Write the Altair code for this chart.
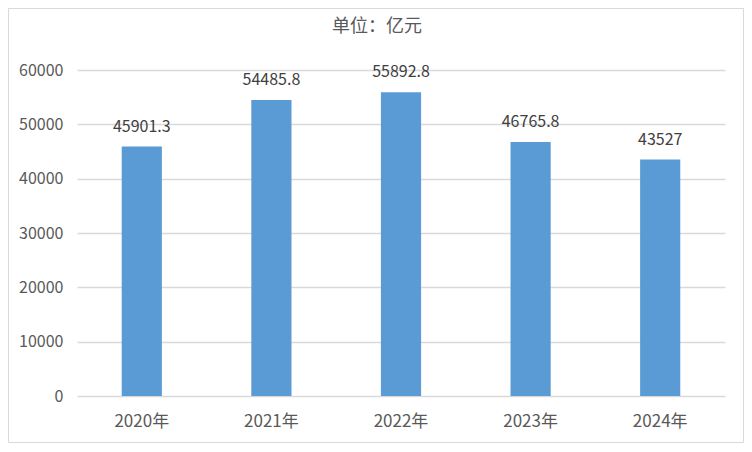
import altair as alt
import pandas as pd

years = ["2020年", "2021年", "2022年", "2023年", "2024年"]
values = [45901.3, 54485.8, 55892.8, 46765.8, 43527]
labels = ["45901.3", "54485.8", "55892.8", "46765.8", "43527"]
title_text = ["单位：亿元"]

df = pd.DataFrame({"year": years, "value": values, "label": labels})

FONT = "Noto Sans CJK SC"
GRAY = "#595959"

base = alt.Chart(df)

x = alt.X("year:N", sort=years, title=None,
          scale=alt.Scale(paddingInner=0.69, paddingOuter=0.345),
          axis=alt.Axis(labelAngle=0, labelFont=FONT, labelFontSize=17, labelColor=GRAY,
                        labelPadding=17, ticks=False, domain=False, grid=False))
y = alt.Y("value:Q", title=None,
          scale=alt.Scale(domain=[0, 60000], nice=False),
          axis=alt.Axis(values=[0, 10000, 20000, 30000, 40000, 50000, 60000],
                        labelFont=FONT, labelFontSize=16, labelColor=GRAY,
                        labelPadding=14, ticks=False, domain=False,
                        grid=True, gridColor="#D9D9D9", gridWidth=1.3, format="d"))

bars = base.mark_bar(color="#5B9BD5").encode(x=x, y=y)
text = base.mark_text(dy=-12, baseline="bottom", font=FONT, fontSize=16, color="#404040").encode(
    x=alt.X("year:N", sort=years), y="value:Q", text="label:N")

title = alt.Chart(pd.DataFrame({"t": title_text})).mark_text(
    font=FONT, fontSize=18, color=GRAY, baseline="middle", align="center").encode(
    x=alt.value(300), y=alt.value(-43), text="t:N")

border = alt.Chart(pd.DataFrame({"a": [0]})).mark_rect(
    fill=None, stroke="#D9D9D9", strokeWidth=1).encode(
    x=alt.value(-68.5), x2=alt.value(648 + 18.5), y=alt.value(-61.5), y2=alt.value(326 + 46.5))

chart = alt.layer(border, bars, text, title).properties(
    width=648, height=326,
    padding={"left": 69, "top": 62, "right": 19, "bottom": 47},
    autosize=alt.AutoSizeParams(type="none"),
).configure_view(stroke=None)

chart.save("out.html", embed_options={"renderer": "svg", "actions": False})
